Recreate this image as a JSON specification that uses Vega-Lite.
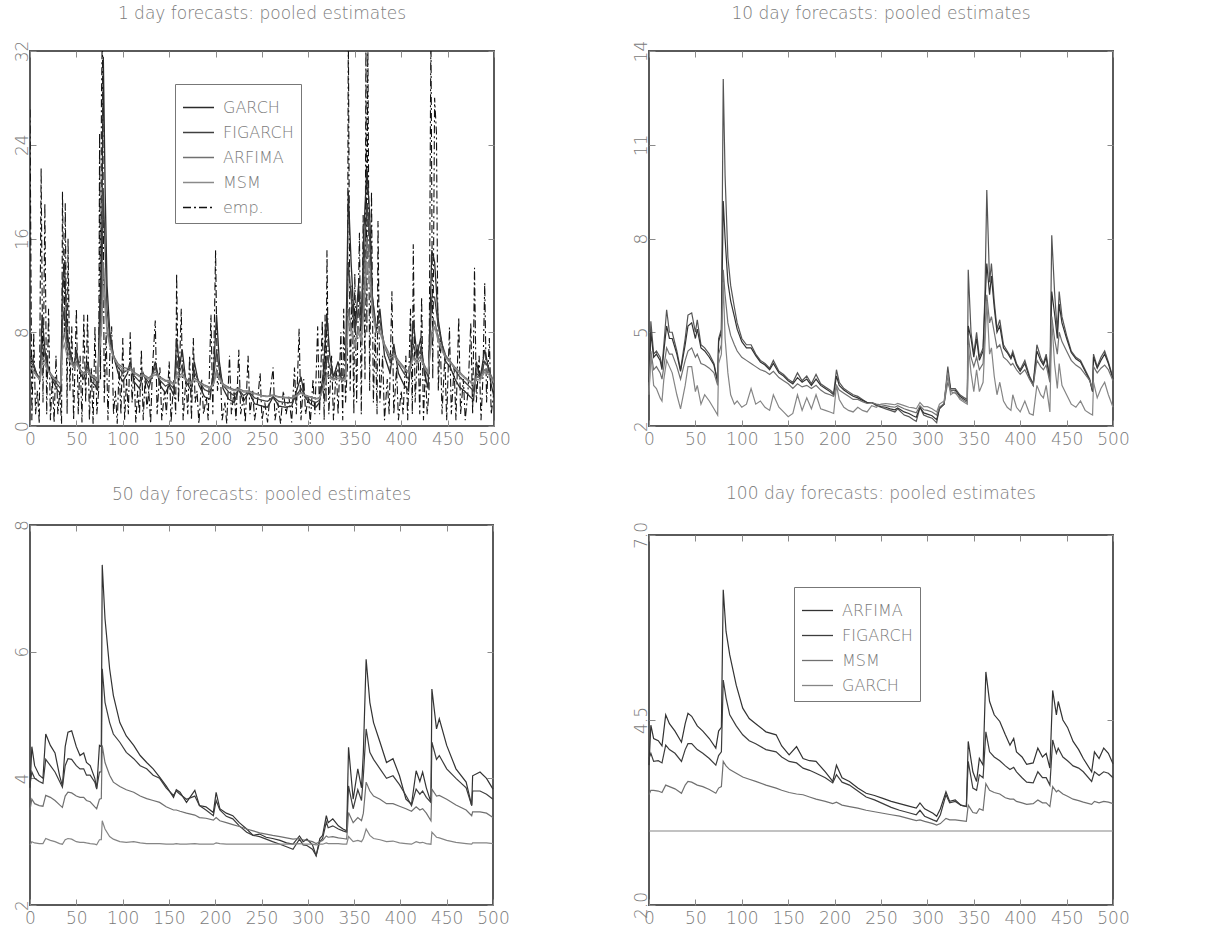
{
"$schema": "https://vega.github.io/schema/vega-lite/v6.json",
"background": "white",
"padding": {"left": 12, "top": 4, "right": 5, "bottom": 5},
"spacing": 119,
"resolve": {"scale": {"color": "independent", "strokeDash": "independent"}, "legend": {"color": "independent", "strokeDash": "independent"}},
"config": {
  "view": {"stroke": "#5a5a5a", "strokeWidth": 2},
  "font": "DejaVu Sans",
  "axis": {"grid": false, "domain": false, "tickColor": "#8a8a8a", "tickSize": -6, "tickWidth": 1, "labelColor": "#7a7a7a", "labelFont": "DejaVu Sans", "labelFontSize": 17, "labelFontWeight": 200, "title": null, "labelFlush": false, "labelOverlap": false},
  "axisBottom": {"labelPadding": 11},
  "axisLeft": {"labelPadding": 5, "labelAngle": -90},
  "title": {"fontSize": 17, "fontWeight": 200, "color": "#7a7a7a", "font": "DejaVu Sans", "anchor": "middle"},
  "legend": {"labelFont": "DejaVu Sans", "labelFontSize": 16, "labelFontWeight": 200, "labelColor": "#7a7a7a", "strokeColor": "#777", "fillColor": "white", "padding": 7, "symbolType": "stroke", "symbolSize": 961, "symbolStrokeWidth": 1.3, "rowPadding": -14, "labelOffset": 8}
},
"datasets": {
"p1e": [{"x":0,"emp":27},{"x":2,"emp":0.5},{"x":4,"emp":8},{"x":6,"emp":1},{"x":8,"emp":3},{"x":10,"emp":0.2},{"x":12,"emp":22},{"x":14,"emp":2},{"x":16,"emp":19},{"x":18,"emp":1},{"x":20,"emp":10},{"x":22,"emp":0.5},{"x":24,"emp":4},{"x":26,"emp":0.3},{"x":28,"emp":6},{"x":30,"emp":1},{"x":32,"emp":3},{"x":34,"emp":0.2},{"x":35,"emp":20},{"x":37,"emp":8},{"x":38,"emp":19},{"x":40,"emp":1},{"x":41,"emp":16},{"x":43,"emp":3},{"x":45,"emp":8.5},{"x":47,"emp":0.5},{"x":50,"emp":10},{"x":52,"emp":1},{"x":54,"emp":6},{"x":56,"emp":0.3},{"x":58,"emp":9.5},{"x":60,"emp":2},{"x":62,"emp":9.5},{"x":64,"emp":0.5},{"x":66,"emp":5},{"x":68,"emp":0.2},{"x":70,"emp":8.5},{"x":72,"emp":1},{"x":74,"emp":3},{"x":75,"emp":25},{"x":76,"emp":4},{"x":77,"emp":28},{"x":78,"emp":34},{"x":80,"emp":2},{"x":82,"emp":8},{"x":84,"emp":0.5},{"x":86,"emp":6},{"x":88,"emp":8.5},{"x":90,"emp":1},{"x":92,"emp":3},{"x":94,"emp":0.2},{"x":96,"emp":5},{"x":98,"emp":1},{"x":100,"emp":7.5},{"x":102,"emp":0.5},{"x":104,"emp":4},{"x":106,"emp":1},{"x":108,"emp":8},{"x":110,"emp":2},{"x":112,"emp":5},{"x":114,"emp":0.3},{"x":116,"emp":3},{"x":118,"emp":1},{"x":120,"emp":6.5},{"x":122,"emp":0.5},{"x":124,"emp":4},{"x":126,"emp":1.5},{"x":128,"emp":3},{"x":130,"emp":0.2},{"x":132,"emp":5},{"x":135,"emp":9},{"x":137,"emp":1},{"x":140,"emp":5},{"x":142,"emp":0.5},{"x":145,"emp":3},{"x":147,"emp":1},{"x":150,"emp":5.5},{"x":152,"emp":0.3},{"x":155,"emp":4},{"x":157,"emp":1},{"x":158,"emp":13},{"x":160,"emp":2},{"x":163,"emp":10},{"x":165,"emp":0.5},{"x":168,"emp":4},{"x":170,"emp":1},{"x":172,"emp":6},{"x":174,"emp":0.5},{"x":176,"emp":7.5},{"x":178,"emp":2},{"x":180,"emp":3},{"x":182,"emp":0.2},{"x":185,"emp":4},{"x":187,"emp":1},{"x":190,"emp":2.5},{"x":192,"emp":0.5},{"x":195,"emp":9.5},{"x":197,"emp":1},{"x":200,"emp":15},{"x":202,"emp":3},{"x":205,"emp":5},{"x":207,"emp":0.5},{"x":210,"emp":2},{"x":212,"emp":0.2},{"x":215,"emp":6},{"x":217,"emp":1},{"x":220,"emp":3},{"x":222,"emp":0.5},{"x":225,"emp":6.5},{"x":227,"emp":1},{"x":230,"emp":2.5},{"x":232,"emp":0.3},{"x":235,"emp":6},{"x":237,"emp":1},{"x":240,"emp":3},{"x":242,"emp":0.5},{"x":245,"emp":2},{"x":248,"emp":4.5},{"x":250,"emp":0.5},{"x":253,"emp":2},{"x":256,"emp":0.3},{"x":259,"emp":3},{"x":262,"emp":5},{"x":264,"emp":0.5},{"x":267,"emp":2},{"x":270,"emp":0.2},{"x":273,"emp":3},{"x":276,"emp":1},{"x":279,"emp":2.5},{"x":282,"emp":0.3},{"x":285,"emp":5},{"x":287,"emp":1},{"x":290,"emp":8.3},{"x":292,"emp":0.5},{"x":295,"emp":4},{"x":297,"emp":1},{"x":300,"emp":2.5},{"x":302,"emp":0.2},{"x":305,"emp":4},{"x":307,"emp":1},{"x":310,"emp":8.5},{"x":312,"emp":1},{"x":315,"emp":9},{"x":317,"emp":0.5},{"x":318,"emp":9.5},{"x":319,"emp":2},{"x":320,"emp":15},{"x":322,"emp":1},{"x":325,"emp":6},{"x":327,"emp":0.5},{"x":330,"emp":5},{"x":332,"emp":1},{"x":335,"emp":8},{"x":337,"emp":0.5},{"x":338,"emp":10},{"x":340,"emp":2},{"x":342,"emp":5},{"x":343,"emp":34},{"x":345,"emp":3},{"x":347,"emp":12},{"x":349,"emp":1},{"x":350,"emp":13},{"x":352,"emp":2},{"x":355,"emp":16.5},{"x":357,"emp":1},{"x":359,"emp":18},{"x":361,"emp":4},{"x":362,"emp":34},{"x":363,"emp":8},{"x":364,"emp":34},{"x":366,"emp":3},{"x":368,"emp":20},{"x":370,"emp":2},{"x":372,"emp":8},{"x":374,"emp":1},{"x":375,"emp":17.5},{"x":377,"emp":2},{"x":380,"emp":6},{"x":382,"emp":0.5},{"x":385,"emp":4},{"x":387,"emp":1},{"x":390,"emp":11.5},{"x":392,"emp":1},{"x":395,"emp":5},{"x":397,"emp":0.5},{"x":400,"emp":3},{"x":402,"emp":1},{"x":405,"emp":6},{"x":407,"emp":0.5},{"x":410,"emp":10},{"x":412,"emp":1},{"x":413,"emp":15.5},{"x":415,"emp":2},{"x":418,"emp":7},{"x":420,"emp":1},{"x":422,"emp":11},{"x":424,"emp":0.5},{"x":426,"emp":5},{"x":428,"emp":1},{"x":430,"emp":3},{"x":432,"emp":34},{"x":434,"emp":4},{"x":436,"emp":28},{"x":438,"emp":25},{"x":440,"emp":3},{"x":442,"emp":8},{"x":444,"emp":1},{"x":447,"emp":6},{"x":449,"emp":0.5},{"x":452,"emp":8.4},{"x":454,"emp":1},{"x":457,"emp":5},{"x":459,"emp":0.5},{"x":462,"emp":9.3},{"x":464,"emp":1},{"x":467,"emp":4},{"x":469,"emp":0.5},{"x":472,"emp":3},{"x":475,"emp":8.8},{"x":477,"emp":1},{"x":479,"emp":13.5},{"x":481,"emp":2},{"x":484,"emp":6},{"x":486,"emp":0.5},{"x":488,"emp":4},{"x":490,"emp":12.2},{"x":492,"emp":2},{"x":495,"emp":7.5},{"x":497,"emp":1},{"x":500,"emp":3}],
"p1m": [
{"x":0,"GARCH":6,"FIGARCH":5.5,"ARFIMA":5,"MSM":5},
{"x":3,"GARCH":5.5,"FIGARCH":5.2,"ARFIMA":4.8,"MSM":4.8},
{"x":7,"GARCH":4.5,"FIGARCH":4.5,"ARFIMA":4.3,"MSM":4.3},
{"x":11,"GARCH":3.8,"FIGARCH":4,"ARFIMA":4,"MSM":3.9},
{"x":13,"GARCH":9.5,"FIGARCH":7,"ARFIMA":6,"MSM":5.5},
{"x":16,"GARCH":6.5,"FIGARCH":6,"ARFIMA":5.5,"MSM":5.2},
{"x":20,"GARCH":4.8,"FIGARCH":4.8,"ARFIMA":4.7,"MSM":4.6},
{"x":25,"GARCH":3.8,"FIGARCH":4,"ARFIMA":4.2,"MSM":4.1},
{"x":30,"GARCH":3,"FIGARCH":3.5,"ARFIMA":3.8,"MSM":3.8},
{"x":33,"GARCH":2.8,"FIGARCH":3.2,"ARFIMA":3.6,"MSM":3.5},
{"x":35,"GARCH":12,"FIGARCH":9,"ARFIMA":7,"MSM":6.5},
{"x":37,"GARCH":14,"FIGARCH":10,"ARFIMA":8,"MSM":7},
{"x":40,"GARCH":8,"FIGARCH":7,"ARFIMA":6.5,"MSM":6},
{"x":43,"GARCH":6.5,"FIGARCH":6.2,"ARFIMA":5.8,"MSM":5.5},
{"x":47,"GARCH":5,"FIGARCH":5.2,"ARFIMA":5.2,"MSM":5},
{"x":50,"GARCH":6.5,"FIGARCH":6,"ARFIMA":5.5,"MSM":5.3},
{"x":54,"GARCH":4.5,"FIGARCH":4.8,"ARFIMA":4.8,"MSM":4.7},
{"x":58,"GARCH":4,"FIGARCH":4.4,"ARFIMA":4.5,"MSM":4.4},
{"x":62,"GARCH":5.5,"FIGARCH":5,"ARFIMA":4.8,"MSM":4.6},
{"x":66,"GARCH":3.8,"FIGARCH":4.2,"ARFIMA":4.4,"MSM":4.3},
{"x":70,"GARCH":3.5,"FIGARCH":4,"ARFIMA":4.2,"MSM":4.1},
{"x":73,"GARCH":3,"FIGARCH":3.6,"ARFIMA":4,"MSM":3.9},
{"x":75,"GARCH":10,"FIGARCH":8,"ARFIMA":7,"MSM":6.5},
{"x":77,"GARCH":13,"FIGARCH":11,"ARFIMA":9,"MSM":8},
{"x":79,"GARCH":31.5,"FIGARCH":20,"ARFIMA":14,"MSM":12},
{"x":81,"GARCH":20,"FIGARCH":15,"ARFIMA":11,"MSM":10},
{"x":83,"GARCH":12,"FIGARCH":10,"ARFIMA":8.5,"MSM":8},
{"x":86,"GARCH":8,"FIGARCH":7.5,"ARFIMA":7,"MSM":6.8},
{"x":90,"GARCH":6,"FIGARCH":6,"ARFIMA":6,"MSM":5.8},
{"x":95,"GARCH":4.5,"FIGARCH":5,"ARFIMA":5.3,"MSM":5.2},
{"x":100,"GARCH":3.8,"FIGARCH":4.5,"ARFIMA":5,"MSM":4.8},
{"x":105,"GARCH":4.5,"FIGARCH":4.8,"ARFIMA":4.9,"MSM":4.7},
{"x":108,"GARCH":5.5,"FIGARCH":5.2,"ARFIMA":5,"MSM":4.8},
{"x":112,"GARCH":3.8,"FIGARCH":4.3,"ARFIMA":4.6,"MSM":4.5},
{"x":118,"GARCH":3.2,"FIGARCH":3.8,"ARFIMA":4.3,"MSM":4.2},
{"x":122,"GARCH":4.5,"FIGARCH":4.4,"ARFIMA":4.4,"MSM":4.3},
{"x":128,"GARCH":3.2,"FIGARCH":3.7,"ARFIMA":4.1,"MSM":4},
{"x":135,"GARCH":5.5,"FIGARCH":5,"ARFIMA":4.6,"MSM":4.4},
{"x":140,"GARCH":3.5,"FIGARCH":3.9,"ARFIMA":4.2,"MSM":4.1},
{"x":146,"GARCH":2.8,"FIGARCH":3.4,"ARFIMA":3.9,"MSM":3.8},
{"x":150,"GARCH":3.5,"FIGARCH":3.6,"ARFIMA":3.9,"MSM":3.8},
{"x":155,"GARCH":2.6,"FIGARCH":3.2,"ARFIMA":3.6,"MSM":3.5},
{"x":158,"GARCH":7.5,"FIGARCH":5.5,"ARFIMA":4.5,"MSM":4.3},
{"x":161,"GARCH":5,"FIGARCH":4.6,"ARFIMA":4.3,"MSM":4.1},
{"x":164,"GARCH":6.5,"FIGARCH":5.2,"ARFIMA":4.5,"MSM":4.3},
{"x":168,"GARCH":3.8,"FIGARCH":4,"ARFIMA":4,"MSM":3.9},
{"x":174,"GARCH":3,"FIGARCH":3.5,"ARFIMA":3.7,"MSM":3.6},
{"x":177,"GARCH":5.5,"FIGARCH":4.6,"ARFIMA":4.1,"MSM":3.9},
{"x":182,"GARCH":3.5,"FIGARCH":3.8,"ARFIMA":3.8,"MSM":3.7},
{"x":188,"GARCH":2.5,"FIGARCH":3.1,"ARFIMA":3.5,"MSM":3.4},
{"x":194,"GARCH":2.3,"FIGARCH":2.9,"ARFIMA":3.3,"MSM":3.2},
{"x":198,"GARCH":5,"FIGARCH":4.2,"ARFIMA":3.7,"MSM":3.6},
{"x":201,"GARCH":9.5,"FIGARCH":6.5,"ARFIMA":4.8,"MSM":4.5},
{"x":204,"GARCH":5.5,"FIGARCH":4.8,"ARFIMA":4.2,"MSM":4},
{"x":208,"GARCH":3.2,"FIGARCH":3.5,"ARFIMA":3.6,"MSM":3.5},
{"x":214,"GARCH":2.3,"FIGARCH":2.9,"ARFIMA":3.3,"MSM":3.2},
{"x":220,"GARCH":2,"FIGARCH":2.6,"ARFIMA":3.1,"MSM":3},
{"x":225,"GARCH":3.2,"FIGARCH":3.1,"ARFIMA":3.2,"MSM":3.1},
{"x":230,"GARCH":2.1,"FIGARCH":2.6,"ARFIMA":3,"MSM":2.9},
{"x":236,"GARCH":2.9,"FIGARCH":2.9,"ARFIMA":3,"MSM":2.9},
{"x":242,"GARCH":1.9,"FIGARCH":2.4,"ARFIMA":2.8,"MSM":2.75},
{"x":250,"GARCH":1.7,"FIGARCH":2.2,"ARFIMA":2.6,"MSM":2.55},
{"x":256,"GARCH":1.6,"FIGARCH":2.1,"ARFIMA":2.55,"MSM":2.5},
{"x":262,"GARCH":2.5,"FIGARCH":2.5,"ARFIMA":2.65,"MSM":2.6},
{"x":268,"GARCH":1.7,"FIGARCH":2.1,"ARFIMA":2.5,"MSM":2.45},
{"x":275,"GARCH":1.6,"FIGARCH":2,"ARFIMA":2.45,"MSM":2.4},
{"x":282,"GARCH":1.7,"FIGARCH":2,"ARFIMA":2.4,"MSM":2.35},
{"x":288,"GARCH":3.2,"FIGARCH":2.7,"ARFIMA":2.65,"MSM":2.6},
{"x":292,"GARCH":4.2,"FIGARCH":3.2,"ARFIMA":2.85,"MSM":2.8},
{"x":296,"GARCH":2.5,"FIGARCH":2.6,"ARFIMA":2.65,"MSM":2.6},
{"x":302,"GARCH":1.9,"FIGARCH":2.2,"ARFIMA":2.5,"MSM":2.45},
{"x":308,"GARCH":1.6,"FIGARCH":2,"ARFIMA":2.35,"MSM":2.3},
{"x":312,"GARCH":2,"FIGARCH":2.2,"ARFIMA":2.4,"MSM":2.35},
{"x":316,"GARCH":4.5,"FIGARCH":3.6,"ARFIMA":3.2,"MSM":3.1},
{"x":320,"GARCH":9.5,"FIGARCH":6,"ARFIMA":4.5,"MSM":4.3},
{"x":323,"GARCH":6,"FIGARCH":5,"ARFIMA":4.3,"MSM":4.1},
{"x":327,"GARCH":4.2,"FIGARCH":4.2,"ARFIMA":4,"MSM":3.9},
{"x":332,"GARCH":5.5,"FIGARCH":4.8,"ARFIMA":4.3,"MSM":4.1},
{"x":336,"GARCH":3.8,"FIGARCH":4,"ARFIMA":4,"MSM":3.9},
{"x":340,"GARCH":4.5,"FIGARCH":4.3,"ARFIMA":4.1,"MSM":4},
{"x":343,"GARCH":20,"FIGARCH":14,"ARFIMA":10,"MSM":9},
{"x":346,"GARCH":14,"FIGARCH":11,"ARFIMA":8.5,"MSM":8},
{"x":350,"GARCH":8,"FIGARCH":8,"ARFIMA":7,"MSM":6.8},
{"x":354,"GARCH":12,"FIGARCH":10,"ARFIMA":8.5,"MSM":8},
{"x":357,"GARCH":9,"FIGARCH":8.5,"ARFIMA":7.5,"MSM":7.2},
{"x":360,"GARCH":17,"FIGARCH":14,"ARFIMA":11,"MSM":10},
{"x":363,"GARCH":22,"FIGARCH":19,"ARFIMA":16,"MSM":14},
{"x":366,"GARCH":18,"FIGARCH":16,"ARFIMA":14,"MSM":12.5},
{"x":369,"GARCH":11,"FIGARCH":11,"ARFIMA":10,"MSM":9.5},
{"x":373,"GARCH":8,"FIGARCH":8.5,"ARFIMA":8.5,"MSM":8},
{"x":377,"GARCH":10,"FIGARCH":9,"ARFIMA":8.5,"MSM":8},
{"x":382,"GARCH":6,"FIGARCH":6.8,"ARFIMA":7,"MSM":6.8},
{"x":388,"GARCH":4.5,"FIGARCH":5.5,"ARFIMA":6,"MSM":5.8},
{"x":392,"GARCH":7,"FIGARCH":6.5,"ARFIMA":6.2,"MSM":6},
{"x":397,"GARCH":4.5,"FIGARCH":5.3,"ARFIMA":5.6,"MSM":5.4},
{"x":403,"GARCH":3.5,"FIGARCH":4.5,"ARFIMA":5,"MSM":4.9},
{"x":408,"GARCH":3,"FIGARCH":4,"ARFIMA":4.6,"MSM":4.5},
{"x":413,"GARCH":9,"FIGARCH":7,"ARFIMA":6,"MSM":5.8},
{"x":417,"GARCH":6,"FIGARCH":5.8,"ARFIMA":5.5,"MSM":5.3},
{"x":421,"GARCH":7.5,"FIGARCH":6.5,"ARFIMA":6,"MSM":5.7},
{"x":425,"GARCH":4.5,"FIGARCH":5,"ARFIMA":5.2,"MSM":5},
{"x":429,"GARCH":3.2,"FIGARCH":4.2,"ARFIMA":4.6,"MSM":4.5},
{"x":433,"GARCH":15,"FIGARCH":11,"ARFIMA":8,"MSM":7.5},
{"x":436,"GARCH":14,"FIGARCH":11,"ARFIMA":9,"MSM":8.5},
{"x":440,"GARCH":9,"FIGARCH":8.5,"ARFIMA":7.5,"MSM":7.2},
{"x":444,"GARCH":7,"FIGARCH":7,"ARFIMA":6.6,"MSM":6.4},
{"x":448,"GARCH":5.5,"FIGARCH":6,"ARFIMA":6,"MSM":5.8},
{"x":453,"GARCH":5,"FIGARCH":5.5,"ARFIMA":5.5,"MSM":5.4},
{"x":458,"GARCH":4,"FIGARCH":4.8,"ARFIMA":5,"MSM":4.9},
{"x":463,"GARCH":3.3,"FIGARCH":4.2,"ARFIMA":4.6,"MSM":4.5},
{"x":468,"GARCH":3,"FIGARCH":3.8,"ARFIMA":4.2,"MSM":4.1},
{"x":473,"GARCH":2.6,"FIGARCH":3.4,"ARFIMA":3.9,"MSM":3.8},
{"x":478,"GARCH":2.2,"FIGARCH":3,"ARFIMA":3.6,"MSM":3.5},
{"x":481,"GARCH":5.5,"FIGARCH":4.5,"ARFIMA":4.2,"MSM":4},
{"x":485,"GARCH":4,"FIGARCH":4.2,"ARFIMA":4.1,"MSM":3.9},
{"x":490,"GARCH":6.5,"FIGARCH":5.5,"ARFIMA":4.8,"MSM":4.6},
{"x":494,"GARCH":5,"FIGARCH":5,"ARFIMA":4.6,"MSM":4.4},
{"x":497,"GARCH":3.5,"FIGARCH":4.2,"ARFIMA":4.3,"MSM":4.1},
{"x":500,"GARCH":2.5,"FIGARCH":3.3,"ARFIMA":3.8,"MSM":3.7}
],
"p2": [
{"x":0,"ARFIMA":3.3,"FIGARCH":3.4,"MSM":3.1,"GARCH":3.0},
{"x":2,"ARFIMA":5.35,"FIGARCH":5.0,"MSM":4.4,"GARCH":4.3},
{"x":5,"ARFIMA":4.3,"FIGARCH":4.2,"MSM":3.8,"GARCH":3.3},
{"x":8,"ARFIMA":4.4,"FIGARCH":4.3,"MSM":3.9,"GARCH":3.2},
{"x":12,"ARFIMA":4.2,"FIGARCH":4.1,"MSM":3.7,"GARCH":2.9},
{"x":14,"ARFIMA":3.9,"FIGARCH":3.8,"MSM":3.5,"GARCH":2.8},
{"x":16,"ARFIMA":4.6,"FIGARCH":4.4,"MSM":3.9,"GARCH":3.5},
{"x":19,"ARFIMA":5.72,"FIGARCH":5.2,"MSM":4.5,"GARCH":4.1},
{"x":22,"ARFIMA":5.0,"FIGARCH":4.8,"MSM":4.3,"GARCH":3.9},
{"x":25,"ARFIMA":5.0,"FIGARCH":4.8,"MSM":4.3,"GARCH":3.7},
{"x":30,"ARFIMA":4.4,"FIGARCH":4.3,"MSM":3.9,"GARCH":3.0},
{"x":34,"ARFIMA":3.8,"FIGARCH":3.75,"MSM":3.5,"GARCH":2.55},
{"x":39,"ARFIMA":4.8,"FIGARCH":4.6,"MSM":4.1,"GARCH":3.3},
{"x":42,"ARFIMA":5.55,"FIGARCH":5.2,"MSM":4.4,"GARCH":3.9},
{"x":46,"ARFIMA":5.62,"FIGARCH":5.3,"MSM":4.5,"GARCH":3.9},
{"x":50,"ARFIMA":5.0,"FIGARCH":4.8,"MSM":4.2,"GARCH":3.1},
{"x":52,"ARFIMA":5.4,"FIGARCH":5.1,"MSM":4.3,"GARCH":3.3},
{"x":56,"ARFIMA":4.6,"FIGARCH":4.5,"MSM":4.0,"GARCH":2.7},
{"x":60,"ARFIMA":4.5,"FIGARCH":4.4,"MSM":3.95,"GARCH":3.0},
{"x":65,"ARFIMA":4.3,"FIGARCH":4.2,"MSM":3.85,"GARCH":2.8},
{"x":70,"ARFIMA":4.0,"FIGARCH":3.95,"MSM":3.7,"GARCH":2.55},
{"x":74,"ARFIMA":3.4,"FIGARCH":3.4,"MSM":3.3,"GARCH":2.35},
{"x":75,"ARFIMA":4.8,"FIGARCH":4.7,"MSM":4.3,"GARCH":4.0},
{"x":78,"ARFIMA":5.1,"FIGARCH":5.0,"MSM":4.6,"GARCH":4.3},
{"x":80,"ARFIMA":13.1,"FIGARCH":9.2,"MSM":7.0,"GARCH":6.6},
{"x":82,"ARFIMA":10.0,"FIGARCH":8.0,"MSM":6.2,"GARCH":4.8},
{"x":85,"ARFIMA":7.4,"FIGARCH":6.6,"MSM":5.3,"GARCH":3.7},
{"x":88,"ARFIMA":6.5,"FIGARCH":6.0,"MSM":4.9,"GARCH":3.0},
{"x":92,"ARFIMA":5.8,"FIGARCH":5.5,"MSM":4.6,"GARCH":2.7},
{"x":95,"ARFIMA":5.3,"FIGARCH":5.1,"MSM":4.4,"GARCH":2.8},
{"x":100,"ARFIMA":4.8,"FIGARCH":4.7,"MSM":4.2,"GARCH":2.6},
{"x":105,"ARFIMA":4.6,"FIGARCH":4.5,"MSM":4.1,"GARCH":2.7},
{"x":110,"ARFIMA":4.6,"FIGARCH":4.5,"MSM":4.0,"GARCH":3.2},
{"x":115,"ARFIMA":4.3,"FIGARCH":4.25,"MSM":3.9,"GARCH":2.7},
{"x":120,"ARFIMA":4.1,"FIGARCH":4.05,"MSM":3.8,"GARCH":2.8},
{"x":125,"ARFIMA":4.0,"FIGARCH":3.95,"MSM":3.75,"GARCH":2.6},
{"x":130,"ARFIMA":3.85,"FIGARCH":3.8,"MSM":3.65,"GARCH":2.5},
{"x":134,"ARFIMA":4.1,"FIGARCH":4.0,"MSM":3.75,"GARCH":3.0},
{"x":140,"ARFIMA":3.75,"FIGARCH":3.7,"MSM":3.55,"GARCH":2.6},
{"x":145,"ARFIMA":3.65,"FIGARCH":3.6,"MSM":3.45,"GARCH":2.45},
{"x":150,"ARFIMA":3.5,"FIGARCH":3.45,"MSM":3.35,"GARCH":2.3},
{"x":155,"ARFIMA":3.4,"FIGARCH":3.35,"MSM":3.2,"GARCH":2.4},
{"x":160,"ARFIMA":3.7,"FIGARCH":3.55,"MSM":3.35,"GARCH":3.0},
{"x":165,"ARFIMA":3.45,"FIGARCH":3.4,"MSM":3.25,"GARCH":2.5},
{"x":170,"ARFIMA":3.6,"FIGARCH":3.5,"MSM":3.3,"GARCH":2.9},
{"x":175,"ARFIMA":3.35,"FIGARCH":3.3,"MSM":3.2,"GARCH":2.55},
{"x":180,"ARFIMA":3.65,"FIGARCH":3.5,"MSM":3.3,"GARCH":3.0},
{"x":185,"ARFIMA":3.35,"FIGARCH":3.3,"MSM":3.15,"GARCH":2.55},
{"x":190,"ARFIMA":3.25,"FIGARCH":3.2,"MSM":3.05,"GARCH":2.5},
{"x":195,"ARFIMA":3.15,"FIGARCH":3.1,"MSM":3.0,"GARCH":2.45},
{"x":199,"ARFIMA":3.05,"FIGARCH":3.0,"MSM":2.95,"GARCH":2.4},
{"x":202,"ARFIMA":3.8,"FIGARCH":3.6,"MSM":3.3,"GARCH":3.3},
{"x":205,"ARFIMA":3.4,"FIGARCH":3.3,"MSM":3.15,"GARCH":2.85},
{"x":210,"ARFIMA":3.2,"FIGARCH":3.15,"MSM":3.05,"GARCH":2.6},
{"x":215,"ARFIMA":3.1,"FIGARCH":3.05,"MSM":2.95,"GARCH":2.5},
{"x":220,"ARFIMA":3.0,"FIGARCH":2.95,"MSM":2.85,"GARCH":2.45},
{"x":225,"ARFIMA":2.95,"FIGARCH":2.9,"MSM":2.85,"GARCH":2.6},
{"x":230,"ARFIMA":2.85,"FIGARCH":2.82,"MSM":2.78,"GARCH":2.5},
{"x":235,"ARFIMA":2.75,"FIGARCH":2.75,"MSM":2.72,"GARCH":2.45},
{"x":240,"ARFIMA":2.75,"FIGARCH":2.75,"MSM":2.75,"GARCH":2.65},
{"x":245,"ARFIMA":2.65,"FIGARCH":2.68,"MSM":2.7,"GARCH":2.6},
{"x":250,"ARFIMA":2.6,"FIGARCH":2.62,"MSM":2.68,"GARCH":2.7},
{"x":255,"ARFIMA":2.55,"FIGARCH":2.6,"MSM":2.65,"GARCH":2.72},
{"x":260,"ARFIMA":2.5,"FIGARCH":2.55,"MSM":2.62,"GARCH":2.7},
{"x":265,"ARFIMA":2.45,"FIGARCH":2.52,"MSM":2.6,"GARCH":2.68},
{"x":268,"ARFIMA":2.55,"FIGARCH":2.58,"MSM":2.65,"GARCH":2.72},
{"x":275,"ARFIMA":2.35,"FIGARCH":2.45,"MSM":2.55,"GARCH":2.65},
{"x":280,"ARFIMA":2.3,"FIGARCH":2.4,"MSM":2.5,"GARCH":2.6},
{"x":285,"ARFIMA":2.2,"FIGARCH":2.32,"MSM":2.45,"GARCH":2.58},
{"x":288,"ARFIMA":2.15,"FIGARCH":2.28,"MSM":2.42,"GARCH":2.55},
{"x":292,"ARFIMA":2.6,"FIGARCH":2.6,"MSM":2.65,"GARCH":2.75},
{"x":296,"ARFIMA":2.35,"FIGARCH":2.42,"MSM":2.52,"GARCH":2.62},
{"x":300,"ARFIMA":2.3,"FIGARCH":2.38,"MSM":2.5,"GARCH":2.62},
{"x":305,"ARFIMA":2.25,"FIGARCH":2.33,"MSM":2.45,"GARCH":2.55},
{"x":310,"ARFIMA":2.1,"FIGARCH":2.2,"MSM":2.35,"GARCH":2.45},
{"x":313,"ARFIMA":2.6,"FIGARCH":2.55,"MSM":2.6,"GARCH":2.7},
{"x":318,"ARFIMA":2.7,"FIGARCH":2.7,"MSM":2.72,"GARCH":2.8},
{"x":322,"ARFIMA":3.9,"FIGARCH":3.7,"MSM":3.4,"GARCH":3.7},
{"x":325,"ARFIMA":3.2,"FIGARCH":3.15,"MSM":3.1,"GARCH":3.0},
{"x":330,"ARFIMA":3.2,"FIGARCH":3.15,"MSM":3.05,"GARCH":3.1},
{"x":335,"ARFIMA":3.0,"FIGARCH":2.95,"MSM":2.9,"GARCH":2.85},
{"x":340,"ARFIMA":2.9,"FIGARCH":2.85,"MSM":2.8,"GARCH":2.75},
{"x":343,"ARFIMA":2.85,"FIGARCH":2.8,"MSM":2.75,"GARCH":2.7},
{"x":344,"ARFIMA":7.0,"FIGARCH":5.2,"MSM":4.9,"GARCH":4.6},
{"x":347,"ARFIMA":5.0,"FIGARCH":4.8,"MSM":4.2,"GARCH":3.7},
{"x":350,"ARFIMA":4.3,"FIGARCH":4.2,"MSM":3.9,"GARCH":3.1},
{"x":353,"ARFIMA":5.0,"FIGARCH":4.8,"MSM":4.2,"GARCH":3.8},
{"x":356,"ARFIMA":4.2,"FIGARCH":4.1,"MSM":3.8,"GARCH":3.1},
{"x":360,"ARFIMA":4.5,"FIGARCH":4.4,"MSM":4.0,"GARCH":3.4},
{"x":362,"ARFIMA":6.2,"FIGARCH":5.9,"MSM":5.0,"GARCH":4.6},
{"x":364,"ARFIMA":9.55,"FIGARCH":7.2,"MSM":6.2,"GARCH":6.0},
{"x":367,"ARFIMA":6.6,"FIGARCH":6.2,"MSM":5.3,"GARCH":4.3},
{"x":369,"ARFIMA":7.2,"FIGARCH":6.8,"MSM":5.5,"GARCH":4.5},
{"x":372,"ARFIMA":6.0,"FIGARCH":5.8,"MSM":5.0,"GARCH":3.6},
{"x":375,"ARFIMA":5.1,"FIGARCH":5.0,"MSM":4.5,"GARCH":3.0},
{"x":378,"ARFIMA":5.4,"FIGARCH":5.2,"MSM":4.6,"GARCH":3.4},
{"x":382,"ARFIMA":4.6,"FIGARCH":4.5,"MSM":4.2,"GARCH":2.8},
{"x":386,"ARFIMA":4.4,"FIGARCH":4.35,"MSM":4.1,"GARCH":2.6},
{"x":390,"ARFIMA":4.2,"FIGARCH":4.15,"MSM":3.95,"GARCH":2.5},
{"x":392,"ARFIMA":4.4,"FIGARCH":4.3,"MSM":4.0,"GARCH":3.0},
{"x":396,"ARFIMA":4.0,"FIGARCH":3.95,"MSM":3.8,"GARCH":2.6},
{"x":400,"ARFIMA":3.8,"FIGARCH":3.75,"MSM":3.65,"GARCH":2.45},
{"x":405,"ARFIMA":4.1,"FIGARCH":4.0,"MSM":3.8,"GARCH":2.8},
{"x":410,"ARFIMA":3.6,"FIGARCH":3.55,"MSM":3.5,"GARCH":2.4},
{"x":414,"ARFIMA":3.35,"FIGARCH":3.3,"MSM":3.3,"GARCH":2.35},
{"x":418,"ARFIMA":4.6,"FIGARCH":4.4,"MSM":4.1,"GARCH":3.3},
{"x":422,"ARFIMA":4.2,"FIGARCH":4.1,"MSM":3.9,"GARCH":3.0},
{"x":425,"ARFIMA":4.0,"FIGARCH":3.95,"MSM":3.8,"GARCH":2.9},
{"x":428,"ARFIMA":4.3,"FIGARCH":4.2,"MSM":3.95,"GARCH":3.3},
{"x":432,"ARFIMA":3.5,"FIGARCH":3.45,"MSM":3.4,"GARCH":2.45},
{"x":434,"ARFIMA":8.1,"FIGARCH":6.3,"MSM":5.5,"GARCH":5.4},
{"x":437,"ARFIMA":6.3,"FIGARCH":5.6,"MSM":4.8,"GARCH":4.0},
{"x":440,"ARFIMA":5.0,"FIGARCH":4.8,"MSM":4.3,"GARCH":3.2},
{"x":442,"ARFIMA":6.3,"FIGARCH":5.9,"MSM":5.0,"GARCH":4.0},
{"x":445,"ARFIMA":5.5,"FIGARCH":5.3,"MSM":4.7,"GARCH":3.3},
{"x":450,"ARFIMA":4.9,"FIGARCH":4.8,"MSM":4.4,"GARCH":3.0},
{"x":455,"ARFIMA":4.4,"FIGARCH":4.35,"MSM":4.1,"GARCH":2.7},
{"x":460,"ARFIMA":4.2,"FIGARCH":4.15,"MSM":3.95,"GARCH":2.6},
{"x":465,"ARFIMA":4.1,"FIGARCH":4.05,"MSM":3.85,"GARCH":2.8},
{"x":470,"ARFIMA":3.8,"FIGARCH":3.75,"MSM":3.65,"GARCH":2.5},
{"x":475,"ARFIMA":3.5,"FIGARCH":3.45,"MSM":3.45,"GARCH":2.4},
{"x":478,"ARFIMA":3.1,"FIGARCH":3.1,"MSM":3.2,"GARCH":2.35},
{"x":479,"ARFIMA":4.3,"FIGARCH":4.2,"MSM":3.9,"GARCH":3.4},
{"x":483,"ARFIMA":3.9,"FIGARCH":3.85,"MSM":3.7,"GARCH":2.9},
{"x":487,"ARFIMA":4.2,"FIGARCH":4.1,"MSM":3.85,"GARCH":3.2},
{"x":491,"ARFIMA":4.4,"FIGARCH":4.3,"MSM":3.95,"GARCH":3.4},
{"x":495,"ARFIMA":4.05,"FIGARCH":4.0,"MSM":3.8,"GARCH":3.0},
{"x":500,"ARFIMA":3.55,"FIGARCH":3.5,"MSM":3.45,"GARCH":2.6}
],
"p3": [
{"x":0,"ARFIMA":3.85,"FIGARCH":3.9,"MSM":3.5,"GARCH":2.95},
{"x":2,"ARFIMA":4.5,"FIGARCH":4.1,"MSM":3.67,"GARCH":3.0},
{"x":5,"ARFIMA":4.2,"FIGARCH":4.0,"MSM":3.6,"GARCH":2.98},
{"x":10,"ARFIMA":4.05,"FIGARCH":3.95,"MSM":3.57,"GARCH":2.97},
{"x":14,"ARFIMA":4.0,"FIGARCH":3.92,"MSM":3.56,"GARCH":2.97},
{"x":17,"ARFIMA":4.7,"FIGARCH":4.3,"MSM":3.73,"GARCH":3.05},
{"x":22,"ARFIMA":4.52,"FIGARCH":4.2,"MSM":3.7,"GARCH":3.02},
{"x":27,"ARFIMA":4.4,"FIGARCH":4.1,"MSM":3.65,"GARCH":3.0},
{"x":32,"ARFIMA":4.04,"FIGARCH":3.95,"MSM":3.58,"GARCH":2.97},
{"x":35,"ARFIMA":3.88,"FIGARCH":3.86,"MSM":3.54,"GARCH":2.96},
{"x":38,"ARFIMA":4.5,"FIGARCH":4.2,"MSM":3.72,"GARCH":3.03},
{"x":41,"ARFIMA":4.73,"FIGARCH":4.31,"MSM":3.78,"GARCH":3.05},
{"x":45,"ARFIMA":4.75,"FIGARCH":4.3,"MSM":3.77,"GARCH":3.04},
{"x":50,"ARFIMA":4.5,"FIGARCH":4.2,"MSM":3.72,"GARCH":3.0},
{"x":54,"ARFIMA":4.36,"FIGARCH":4.15,"MSM":3.7,"GARCH":2.99},
{"x":58,"ARFIMA":4.4,"FIGARCH":4.15,"MSM":3.7,"GARCH":2.99},
{"x":61,"ARFIMA":4.25,"FIGARCH":4.05,"MSM":3.65,"GARCH":2.98},
{"x":65,"ARFIMA":4.2,"FIGARCH":4.05,"MSM":3.63,"GARCH":2.97},
{"x":70,"ARFIMA":4.0,"FIGARCH":3.94,"MSM":3.55,"GARCH":2.96},
{"x":72,"ARFIMA":3.83,"FIGARCH":3.84,"MSM":3.52,"GARCH":2.95},
{"x":75,"ARFIMA":4.52,"FIGARCH":4.1,"MSM":3.67,"GARCH":3.03},
{"x":77,"ARFIMA":4.5,"FIGARCH":4.1,"MSM":3.68,"GARCH":3.03},
{"x":78,"ARFIMA":7.37,"FIGARCH":5.73,"MSM":4.52,"GARCH":3.33},
{"x":81,"ARFIMA":6.52,"FIGARCH":5.2,"MSM":4.25,"GARCH":3.2},
{"x":86,"ARFIMA":5.73,"FIGARCH":4.88,"MSM":4.05,"GARCH":3.08},
{"x":90,"ARFIMA":5.31,"FIGARCH":4.7,"MSM":3.94,"GARCH":3.04},
{"x":97,"ARFIMA":4.88,"FIGARCH":4.57,"MSM":3.87,"GARCH":3.0},
{"x":104,"ARFIMA":4.67,"FIGARCH":4.41,"MSM":3.82,"GARCH":2.99},
{"x":112,"ARFIMA":4.52,"FIGARCH":4.31,"MSM":3.78,"GARCH":3.0},
{"x":119,"ARFIMA":4.36,"FIGARCH":4.2,"MSM":3.72,"GARCH":2.98},
{"x":126,"ARFIMA":4.25,"FIGARCH":4.15,"MSM":3.68,"GARCH":2.97},
{"x":133,"ARFIMA":4.15,"FIGARCH":4.05,"MSM":3.65,"GARCH":2.97},
{"x":140,"ARFIMA":4.02,"FIGARCH":4.0,"MSM":3.62,"GARCH":2.97},
{"x":147,"ARFIMA":3.88,"FIGARCH":3.85,"MSM":3.55,"GARCH":2.96},
{"x":155,"ARFIMA":3.7,"FIGARCH":3.73,"MSM":3.5,"GARCH":2.96},
{"x":158,"ARFIMA":3.82,"FIGARCH":3.8,"MSM":3.5,"GARCH":2.97},
{"x":162,"ARFIMA":3.78,"FIGARCH":3.75,"MSM":3.48,"GARCH":2.96},
{"x":169,"ARFIMA":3.62,"FIGARCH":3.67,"MSM":3.45,"GARCH":2.96},
{"x":178,"ARFIMA":3.81,"FIGARCH":3.72,"MSM":3.42,"GARCH":2.97},
{"x":183,"ARFIMA":3.57,"FIGARCH":3.57,"MSM":3.38,"GARCH":2.96},
{"x":190,"ARFIMA":3.55,"FIGARCH":3.5,"MSM":3.37,"GARCH":2.96},
{"x":198,"ARFIMA":3.46,"FIGARCH":3.41,"MSM":3.34,"GARCH":2.96},
{"x":201,"ARFIMA":3.78,"FIGARCH":3.65,"MSM":3.38,"GARCH":2.98},
{"x":205,"ARFIMA":3.52,"FIGARCH":3.5,"MSM":3.33,"GARCH":2.97},
{"x":212,"ARFIMA":3.45,"FIGARCH":3.4,"MSM":3.3,"GARCH":2.96},
{"x":219,"ARFIMA":3.41,"FIGARCH":3.36,"MSM":3.27,"GARCH":2.96},
{"x":226,"ARFIMA":3.3,"FIGARCH":3.25,"MSM":3.24,"GARCH":2.96},
{"x":234,"ARFIMA":3.2,"FIGARCH":3.15,"MSM":3.2,"GARCH":2.96},
{"x":241,"ARFIMA":3.1,"FIGARCH":3.1,"MSM":3.17,"GARCH":2.96},
{"x":248,"ARFIMA":3.12,"FIGARCH":3.08,"MSM":3.14,"GARCH":2.96},
{"x":255,"ARFIMA":3.07,"FIGARCH":3.04,"MSM":3.12,"GARCH":2.96},
{"x":262,"ARFIMA":3.05,"FIGARCH":3.0,"MSM":3.1,"GARCH":2.96},
{"x":270,"ARFIMA":3.02,"FIGARCH":2.96,"MSM":3.08,"GARCH":2.96},
{"x":277,"ARFIMA":2.98,"FIGARCH":2.92,"MSM":3.06,"GARCH":2.96},
{"x":284,"ARFIMA":2.96,"FIGARCH":2.88,"MSM":3.04,"GARCH":2.96},
{"x":291,"ARFIMA":3.09,"FIGARCH":3.04,"MSM":3.05,"GARCH":2.97},
{"x":295,"ARFIMA":3.0,"FIGARCH":2.95,"MSM":3.03,"GARCH":2.96},
{"x":299,"ARFIMA":3.04,"FIGARCH":2.94,"MSM":3.02,"GARCH":2.96},
{"x":305,"ARFIMA":2.95,"FIGARCH":2.88,"MSM":3.0,"GARCH":2.96},
{"x":309,"ARFIMA":2.78,"FIGARCH":2.78,"MSM":2.97,"GARCH":2.95},
{"x":313,"ARFIMA":3.05,"FIGARCH":3.0,"MSM":3.0,"GARCH":2.96},
{"x":316,"ARFIMA":3.1,"FIGARCH":3.05,"MSM":3.02,"GARCH":2.96},
{"x":320,"ARFIMA":3.41,"FIGARCH":3.31,"MSM":3.09,"GARCH":2.98},
{"x":322,"ARFIMA":3.3,"FIGARCH":3.22,"MSM":3.07,"GARCH":2.97},
{"x":327,"ARFIMA":3.36,"FIGARCH":3.25,"MSM":3.08,"GARCH":2.97},
{"x":333,"ARFIMA":3.25,"FIGARCH":3.2,"MSM":3.06,"GARCH":2.97},
{"x":338,"ARFIMA":3.2,"FIGARCH":3.17,"MSM":3.05,"GARCH":2.96},
{"x":342,"ARFIMA":3.17,"FIGARCH":3.15,"MSM":3.04,"GARCH":2.96},
{"x":344,"ARFIMA":4.49,"FIGARCH":3.88,"MSM":3.46,"GARCH":3.08},
{"x":349,"ARFIMA":3.67,"FIGARCH":3.52,"MSM":3.3,"GARCH":3.0},
{"x":354,"ARFIMA":4.15,"FIGARCH":3.82,"MSM":3.38,"GARCH":3.02},
{"x":358,"ARFIMA":3.85,"FIGARCH":3.65,"MSM":3.33,"GARCH":3.0},
{"x":360,"ARFIMA":4.41,"FIGARCH":4.04,"MSM":3.45,"GARCH":3.05},
{"x":363,"ARFIMA":5.88,"FIGARCH":4.78,"MSM":3.94,"GARCH":3.2},
{"x":367,"ARFIMA":5.2,"FIGARCH":4.41,"MSM":3.8,"GARCH":3.1},
{"x":371,"ARFIMA":4.88,"FIGARCH":4.3,"MSM":3.72,"GARCH":3.05},
{"x":378,"ARFIMA":4.57,"FIGARCH":4.15,"MSM":3.67,"GARCH":3.03},
{"x":385,"ARFIMA":4.25,"FIGARCH":4.0,"MSM":3.6,"GARCH":3.0},
{"x":392,"ARFIMA":4.31,"FIGARCH":4.04,"MSM":3.6,"GARCH":3.01},
{"x":399,"ARFIMA":4.04,"FIGARCH":3.9,"MSM":3.56,"GARCH":2.98},
{"x":406,"ARFIMA":3.67,"FIGARCH":3.73,"MSM":3.52,"GARCH":2.97},
{"x":412,"ARFIMA":3.59,"FIGARCH":3.57,"MSM":3.48,"GARCH":2.96},
{"x":417,"ARFIMA":4.12,"FIGARCH":3.83,"MSM":3.55,"GARCH":3.0},
{"x":421,"ARFIMA":3.95,"FIGARCH":3.75,"MSM":3.5,"GARCH":2.98},
{"x":424,"ARFIMA":4.1,"FIGARCH":3.8,"MSM":3.52,"GARCH":2.99},
{"x":428,"ARFIMA":3.85,"FIGARCH":3.7,"MSM":3.45,"GARCH":2.97},
{"x":433,"ARFIMA":3.62,"FIGARCH":3.62,"MSM":3.33,"GARCH":2.96},
{"x":434,"ARFIMA":5.41,"FIGARCH":4.57,"MSM":3.83,"GARCH":3.15},
{"x":439,"ARFIMA":4.78,"FIGARCH":4.3,"MSM":3.72,"GARCH":3.07},
{"x":442,"ARFIMA":4.94,"FIGARCH":4.36,"MSM":3.73,"GARCH":3.06},
{"x":450,"ARFIMA":4.52,"FIGARCH":4.15,"MSM":3.67,"GARCH":3.02},
{"x":460,"ARFIMA":4.15,"FIGARCH":4.0,"MSM":3.58,"GARCH":2.99},
{"x":471,"ARFIMA":3.94,"FIGARCH":3.85,"MSM":3.5,"GARCH":2.97},
{"x":477,"ARFIMA":3.57,"FIGARCH":3.57,"MSM":3.41,"GARCH":2.96},
{"x":478,"ARFIMA":4.04,"FIGARCH":3.8,"MSM":3.47,"GARCH":2.98},
{"x":486,"ARFIMA":4.1,"FIGARCH":3.8,"MSM":3.47,"GARCH":2.98},
{"x":493,"ARFIMA":4.0,"FIGARCH":3.75,"MSM":3.45,"GARCH":2.98},
{"x":500,"ARFIMA":3.83,"FIGARCH":3.67,"MSM":3.38,"GARCH":2.97}
],
"p4": [
{"x":0,"ARFIMA":3.89,"FIGARCH":3.98,"MSM":3.49,"GARCH":3.0},
{"x":2,"ARFIMA":4.43,"FIGARCH":4.05,"MSM":3.55,"GARCH":3.0},
{"x":5,"ARFIMA":4.25,"FIGARCH":3.94,"MSM":3.55,"GARCH":3.0},
{"x":10,"ARFIMA":4.22,"FIGARCH":3.95,"MSM":3.54,"GARCH":3.0},
{"x":14,"ARFIMA":4.15,"FIGARCH":3.92,"MSM":3.52,"GARCH":3.0},
{"x":18,"ARFIMA":4.57,"FIGARCH":4.16,"MSM":3.62,"GARCH":3.0},
{"x":22,"ARFIMA":4.45,"FIGARCH":4.1,"MSM":3.6,"GARCH":3.0},
{"x":28,"ARFIMA":4.35,"FIGARCH":4.05,"MSM":3.57,"GARCH":3.0},
{"x":35,"ARFIMA":4.2,"FIGARCH":3.94,"MSM":3.51,"GARCH":3.0},
{"x":39,"ARFIMA":4.45,"FIGARCH":4.1,"MSM":3.62,"GARCH":3.0},
{"x":42,"ARFIMA":4.59,"FIGARCH":4.18,"MSM":3.67,"GARCH":3.0},
{"x":46,"ARFIMA":4.55,"FIGARCH":4.18,"MSM":3.66,"GARCH":3.0},
{"x":52,"ARFIMA":4.42,"FIGARCH":4.1,"MSM":3.62,"GARCH":3.0},
{"x":58,"ARFIMA":4.35,"FIGARCH":4.05,"MSM":3.6,"GARCH":3.0},
{"x":65,"ARFIMA":4.25,"FIGARCH":3.98,"MSM":3.56,"GARCH":3.0},
{"x":72,"ARFIMA":4.12,"FIGARCH":3.89,"MSM":3.51,"GARCH":3.0},
{"x":75,"ARFIMA":4.35,"FIGARCH":4.02,"MSM":3.58,"GARCH":3.0},
{"x":78,"ARFIMA":4.4,"FIGARCH":4.07,"MSM":3.6,"GARCH":3.0},
{"x":80,"ARFIMA":6.26,"FIGARCH":5.04,"MSM":3.94,"GARCH":3.0},
{"x":83,"ARFIMA":5.7,"FIGARCH":4.8,"MSM":3.88,"GARCH":3.0},
{"x":87,"ARFIMA":5.38,"FIGARCH":4.57,"MSM":3.83,"GARCH":3.0},
{"x":94,"ARFIMA":4.97,"FIGARCH":4.42,"MSM":3.78,"GARCH":3.0},
{"x":101,"ARFIMA":4.66,"FIGARCH":4.3,"MSM":3.73,"GARCH":3.0},
{"x":108,"ARFIMA":4.52,"FIGARCH":4.22,"MSM":3.7,"GARCH":3.0},
{"x":115,"ARFIMA":4.45,"FIGARCH":4.18,"MSM":3.67,"GARCH":3.0},
{"x":126,"ARFIMA":4.34,"FIGARCH":4.1,"MSM":3.62,"GARCH":3.0},
{"x":137,"ARFIMA":4.3,"FIGARCH":4.07,"MSM":3.58,"GARCH":3.0},
{"x":143,"ARFIMA":4.15,"FIGARCH":4.0,"MSM":3.55,"GARCH":3.0},
{"x":151,"ARFIMA":4.03,"FIGARCH":3.94,"MSM":3.52,"GARCH":3.0},
{"x":159,"ARFIMA":4.14,"FIGARCH":3.92,"MSM":3.5,"GARCH":3.0},
{"x":166,"ARFIMA":3.98,"FIGARCH":3.85,"MSM":3.49,"GARCH":3.0},
{"x":173,"ARFIMA":3.95,"FIGARCH":3.82,"MSM":3.46,"GARCH":3.0},
{"x":180,"ARFIMA":3.94,"FIGARCH":3.78,"MSM":3.43,"GARCH":3.0},
{"x":190,"ARFIMA":3.8,"FIGARCH":3.72,"MSM":3.4,"GARCH":3.0},
{"x":198,"ARFIMA":3.67,"FIGARCH":3.65,"MSM":3.37,"GARCH":3.0},
{"x":202,"ARFIMA":3.89,"FIGARCH":3.76,"MSM":3.39,"GARCH":3.0},
{"x":208,"ARFIMA":3.72,"FIGARCH":3.66,"MSM":3.35,"GARCH":3.0},
{"x":216,"ARFIMA":3.67,"FIGARCH":3.62,"MSM":3.33,"GARCH":3.0},
{"x":225,"ARFIMA":3.58,"FIGARCH":3.54,"MSM":3.31,"GARCH":3.0},
{"x":234,"ARFIMA":3.51,"FIGARCH":3.46,"MSM":3.28,"GARCH":3.0},
{"x":243,"ARFIMA":3.48,"FIGARCH":3.42,"MSM":3.26,"GARCH":3.0},
{"x":252,"ARFIMA":3.44,"FIGARCH":3.37,"MSM":3.24,"GARCH":3.0},
{"x":261,"ARFIMA":3.4,"FIGARCH":3.32,"MSM":3.22,"GARCH":3.0},
{"x":270,"ARFIMA":3.37,"FIGARCH":3.28,"MSM":3.2,"GARCH":3.0},
{"x":279,"ARFIMA":3.34,"FIGARCH":3.25,"MSM":3.17,"GARCH":3.0},
{"x":288,"ARFIMA":3.31,"FIGARCH":3.22,"MSM":3.14,"GARCH":3.0},
{"x":292,"ARFIMA":3.38,"FIGARCH":3.28,"MSM":3.15,"GARCH":3.0},
{"x":297,"ARFIMA":3.3,"FIGARCH":3.2,"MSM":3.13,"GARCH":3.0},
{"x":306,"ARFIMA":3.24,"FIGARCH":3.15,"MSM":3.1,"GARCH":3.0},
{"x":310,"ARFIMA":3.2,"FIGARCH":3.13,"MSM":3.08,"GARCH":3.0},
{"x":314,"ARFIMA":3.3,"FIGARCH":3.22,"MSM":3.1,"GARCH":3.0},
{"x":320,"ARFIMA":3.53,"FIGARCH":3.49,"MSM":3.17,"GARCH":3.0},
{"x":324,"ARFIMA":3.4,"FIGARCH":3.38,"MSM":3.15,"GARCH":3.0},
{"x":330,"ARFIMA":3.42,"FIGARCH":3.4,"MSM":3.15,"GARCH":3.0},
{"x":336,"ARFIMA":3.35,"FIGARCH":3.35,"MSM":3.14,"GARCH":3.0},
{"x":342,"ARFIMA":3.33,"FIGARCH":3.33,"MSM":3.13,"GARCH":3.0},
{"x":344,"ARFIMA":4.21,"FIGARCH":3.94,"MSM":3.35,"GARCH":3.0},
{"x":349,"ARFIMA":3.8,"FIGARCH":3.58,"MSM":3.25,"GARCH":3.0},
{"x":353,"ARFIMA":3.67,"FIGARCH":3.55,"MSM":3.24,"GARCH":3.0},
{"x":356,"ARFIMA":3.98,"FIGARCH":3.76,"MSM":3.3,"GARCH":3.0},
{"x":360,"ARFIMA":3.89,"FIGARCH":3.72,"MSM":3.28,"GARCH":3.0},
{"x":363,"ARFIMA":5.15,"FIGARCH":4.34,"MSM":3.64,"GARCH":3.0},
{"x":367,"ARFIMA":4.75,"FIGARCH":4.07,"MSM":3.55,"GARCH":3.0},
{"x":372,"ARFIMA":4.57,"FIGARCH":4.0,"MSM":3.52,"GARCH":3.0},
{"x":378,"ARFIMA":4.48,"FIGARCH":3.95,"MSM":3.5,"GARCH":3.0},
{"x":384,"ARFIMA":4.3,"FIGARCH":3.88,"MSM":3.45,"GARCH":3.0},
{"x":389,"ARFIMA":4.16,"FIGARCH":3.83,"MSM":3.43,"GARCH":3.0},
{"x":393,"ARFIMA":4.25,"FIGARCH":3.86,"MSM":3.43,"GARCH":3.0},
{"x":396,"ARFIMA":4.07,"FIGARCH":3.8,"MSM":3.4,"GARCH":3.0},
{"x":402,"ARFIMA":4.0,"FIGARCH":3.72,"MSM":3.38,"GARCH":3.0},
{"x":407,"ARFIMA":3.9,"FIGARCH":3.66,"MSM":3.36,"GARCH":3.0},
{"x":414,"ARFIMA":3.92,"FIGARCH":3.65,"MSM":3.37,"GARCH":3.0},
{"x":419,"ARFIMA":4.12,"FIGARCH":3.8,"MSM":3.42,"GARCH":3.0},
{"x":424,"ARFIMA":4.0,"FIGARCH":3.72,"MSM":3.38,"GARCH":3.0},
{"x":428,"ARFIMA":4.05,"FIGARCH":3.72,"MSM":3.38,"GARCH":3.0},
{"x":432,"ARFIMA":3.85,"FIGARCH":3.62,"MSM":3.33,"GARCH":3.0},
{"x":435,"ARFIMA":4.9,"FIGARCH":4.23,"MSM":3.6,"GARCH":3.0},
{"x":439,"ARFIMA":4.57,"FIGARCH":4.05,"MSM":3.53,"GARCH":3.0},
{"x":441,"ARFIMA":4.75,"FIGARCH":4.12,"MSM":3.55,"GARCH":3.0},
{"x":446,"ARFIMA":4.5,"FIGARCH":4.0,"MSM":3.5,"GARCH":3.0},
{"x":451,"ARFIMA":4.4,"FIGARCH":3.95,"MSM":3.47,"GARCH":3.0},
{"x":457,"ARFIMA":4.21,"FIGARCH":3.88,"MSM":3.43,"GARCH":3.0},
{"x":463,"ARFIMA":4.1,"FIGARCH":3.85,"MSM":3.41,"GARCH":3.0},
{"x":468,"ARFIMA":3.98,"FIGARCH":3.8,"MSM":3.39,"GARCH":3.0},
{"x":477,"ARFIMA":3.8,"FIGARCH":3.67,"MSM":3.36,"GARCH":3.0},
{"x":480,"ARFIMA":4.07,"FIGARCH":3.8,"MSM":3.4,"GARCH":3.0},
{"x":485,"ARFIMA":3.98,"FIGARCH":3.75,"MSM":3.38,"GARCH":3.0},
{"x":490,"ARFIMA":4.12,"FIGARCH":3.8,"MSM":3.4,"GARCH":3.0},
{"x":495,"ARFIMA":4.05,"FIGARCH":3.78,"MSM":3.39,"GARCH":3.0},
{"x":500,"ARFIMA":3.91,"FIGARCH":3.72,"MSM":3.37,"GARCH":3.0}
]
},
"hconcat": [
 {"vconcat": [
  {"width": 464, "height": 375,
   "title": {"text": "1 day forecasts: pooled estimates", "offset": 17},
   "layer": [
    {"data": {"name": "p1e"},
     "transform": [{"fold": ["emp"], "as": ["series", "v"]}],
     "mark": {"type": "line", "strokeWidth": 1.1, "clip": true},
     "encoding": {
      "x": {"field": "x", "type": "quantitative", "scale": {"domain": [0, 500], "nice": false}, "axis": {"orient": "bottom", "values": [0,50,100,150,200,250,300,350,400,450,500]}},
      "y": {"field": "v", "type": "quantitative", "scale": {"domain": [0, 32], "nice": false, "zero": false}, "axis": {"orient": "left", "values": [0,8,16,24,32]}},
      "color": {"field": "series", "type": "nominal", "scale": {"domain": ["GARCH","FIGARCH","ARFIMA","MSM","emp"], "range": ["#2b2b2b","#404040","#707070","#8a8a8a","#111111"]}, "legend": {"title": null, "orient": "none", "legendX": 145, "legendY": 33, "labelExpr": "datum.label == 'emp' ? 'emp.' : datum.label"}},
      "strokeDash": {"field": "series", "type": "nominal", "scale": {"domain": ["GARCH","FIGARCH","ARFIMA","MSM","emp"], "range": [[1,0],[1,0],[1,0],[1,0],[8,3,2,3]]}, "legend": {"title": null, "orient": "none", "legendX": 145, "legendY": 33, "labelExpr": "datum.label == 'emp' ? 'emp.' : datum.label"}}
     }},
    {"data": {"name": "p1m"},
     "transform": [{"fold": ["GARCH","FIGARCH","ARFIMA","MSM"], "as": ["series", "v"]}],
     "mark": {"type": "line", "strokeWidth": 1.3, "clip": true},
     "encoding": {
      "x": {"field": "x", "type": "quantitative", "scale": {"domain": [0, 500], "nice": false}, "axis": {"orient": "top", "labels": false, "values": [0,50,100,150,200,250,300,350,400,450,500]}},
      "y": {"field": "v", "type": "quantitative", "scale": {"domain": [0, 32], "nice": false, "zero": false}, "axis": {"orient": "right", "labels": false, "values": [0,8,16,24,32]}},
      "color": {"field": "series", "type": "nominal", "scale": {"domain": ["GARCH","FIGARCH","ARFIMA","MSM","emp"], "range": ["#2b2b2b","#404040","#707070","#8a8a8a","#111111"]}, "legend": {"title": null, "orient": "none", "legendX": 145, "legendY": 33, "labelExpr": "datum.label == 'emp' ? 'emp.' : datum.label"}},
      "strokeDash": {"field": "series", "type": "nominal", "scale": {"domain": ["GARCH","FIGARCH","ARFIMA","MSM","emp"], "range": [[1,0],[1,0],[1,0],[1,0],[8,3,2,3]]}, "legend": {"title": null, "orient": "none", "legendX": 145, "legendY": 33, "labelExpr": "datum.label == 'emp' ? 'emp.' : datum.label"}}
     }}
   ],
   "resolve": {"axis": {"x": "independent", "y": "independent"}}
  },
  {"width": 463, "height": 380,
   "title": {"text": "50 day forecasts: pooled estimates", "offset": 16},
   "data": {"name": "p3"},
   "transform": [{"fold": ["ARFIMA","FIGARCH","MSM","GARCH"], "as": ["series", "v"]}],
   "layer": [
    {"mark": {"type": "line", "strokeWidth": 1.2},
     "encoding": {
      "x": {"field": "x", "type": "quantitative", "scale": {"domain": [0, 500], "nice": false}, "axis": {"orient": "bottom", "values": [0,50,100,150,200,250,300,350,400,450,500]}},
      "y": {"field": "v", "type": "quantitative", "scale": {"domain": [2, 8], "nice": false, "zero": false}, "axis": {"orient": "left", "values": [2,4,6,8]}},
      "color": {"field": "series", "type": "nominal", "scale": {"domain": ["ARFIMA","FIGARCH","MSM","GARCH"], "range": ["#333333","#3d3d3d","#707070","#858585"]}, "legend": null}
     }},
    {"mark": {"type": "line", "opacity": 0},
     "encoding": {
      "x": {"field": "x", "type": "quantitative", "scale": {"domain": [0, 500], "nice": false}, "axis": {"orient": "top", "labels": false, "values": [0,50,100,150,200,250,300,350,400,450,500]}},
      "y": {"field": "v", "type": "quantitative", "scale": {"domain": [2, 8], "nice": false, "zero": false}, "axis": {"orient": "right", "labels": false, "values": [2,4,6,8]}}
     }}
   ],
   "resolve": {"axis": {"x": "independent", "y": "independent"}}
  }
 ], "spacing": 36,
 "resolve": {"scale": {"color": "independent", "strokeDash": "independent"}, "legend": {"color": "independent", "strokeDash": "independent"}}},
 {"vconcat": [
  {"width": 464, "height": 375,
   "title": {"text": "10 day forecasts: pooled estimates", "offset": 17},
   "data": {"name": "p2"},
   "transform": [{"fold": ["ARFIMA","FIGARCH","MSM","GARCH"], "as": ["series", "v"]}],
   "layer": [
    {"mark": {"type": "line", "strokeWidth": 1.2},
     "encoding": {
      "x": {"field": "x", "type": "quantitative", "scale": {"domain": [0, 500], "nice": false}, "axis": {"orient": "bottom", "values": [0,50,100,150,200,250,300,350,400,450,500]}},
      "y": {"field": "v", "type": "quantitative", "scale": {"domain": [2, 14], "nice": false, "zero": false}, "axis": {"orient": "left", "values": [2,5,8,11,14]}},
      "color": {"field": "series", "type": "nominal", "scale": {"domain": ["ARFIMA","FIGARCH","MSM","GARCH"], "range": ["#555555","#333333","#707070","#858585"]}, "legend": null}
     }},
    {"mark": {"type": "line", "opacity": 0},
     "encoding": {
      "x": {"field": "x", "type": "quantitative", "scale": {"domain": [0, 500], "nice": false}, "axis": {"orient": "top", "labels": false, "values": [0,50,100,150,200,250,300,350,400,450,500]}},
      "y": {"field": "v", "type": "quantitative", "scale": {"domain": [2, 14], "nice": false, "zero": false}, "axis": {"orient": "right", "labels": false, "values": [2,5,8,11,14]}}
     }}
   ],
   "resolve": {"axis": {"x": "independent", "y": "independent"}}
  },
  {"width": 464, "height": 370,
   "title": {"text": "100 day forecasts: pooled estimates", "offset": 18},
   "data": {"name": "p4"},
   "transform": [{"fold": ["ARFIMA","FIGARCH","MSM","GARCH"], "as": ["series", "v"]}],
   "layer": [
    {"mark": {"type": "line", "strokeWidth": 1.2},
     "encoding": {
      "x": {"field": "x", "type": "quantitative", "scale": {"domain": [0, 500], "nice": false}, "axis": {"orient": "bottom", "values": [0,50,100,150,200,250,300,350,400,450,500]}},
      "y": {"field": "v", "type": "quantitative", "scale": {"domain": [2, 7], "nice": false, "zero": false}, "axis": {"orient": "left", "values": [2,4.5,7], "format": ".1f"}},
      "color": {"field": "series", "type": "nominal", "scale": {"domain": ["ARFIMA","FIGARCH","MSM","GARCH"], "range": ["#333333","#3d3d3d","#707070","#858585"]}, "legend": {"title": null, "orient": "none", "legendX": 145, "legendY": 52}}
     }},
    {"mark": {"type": "line", "opacity": 0},
     "encoding": {
      "x": {"field": "x", "type": "quantitative", "scale": {"domain": [0, 500], "nice": false}, "axis": {"orient": "top", "labels": false, "values": [0,50,100,150,200,250,300,350,400,450,500]}},
      "y": {"field": "v", "type": "quantitative", "scale": {"domain": [2, 7], "nice": false, "zero": false}, "axis": {"orient": "right", "labels": false, "values": [2,4.5,7]}}
     }}
   ],
   "resolve": {"axis": {"x": "independent", "y": "independent"}}
  }
 ], "spacing": 36,
 "resolve": {"scale": {"color": "independent", "strokeDash": "independent"}, "legend": {"color": "independent", "strokeDash": "independent"}}}
]
}
